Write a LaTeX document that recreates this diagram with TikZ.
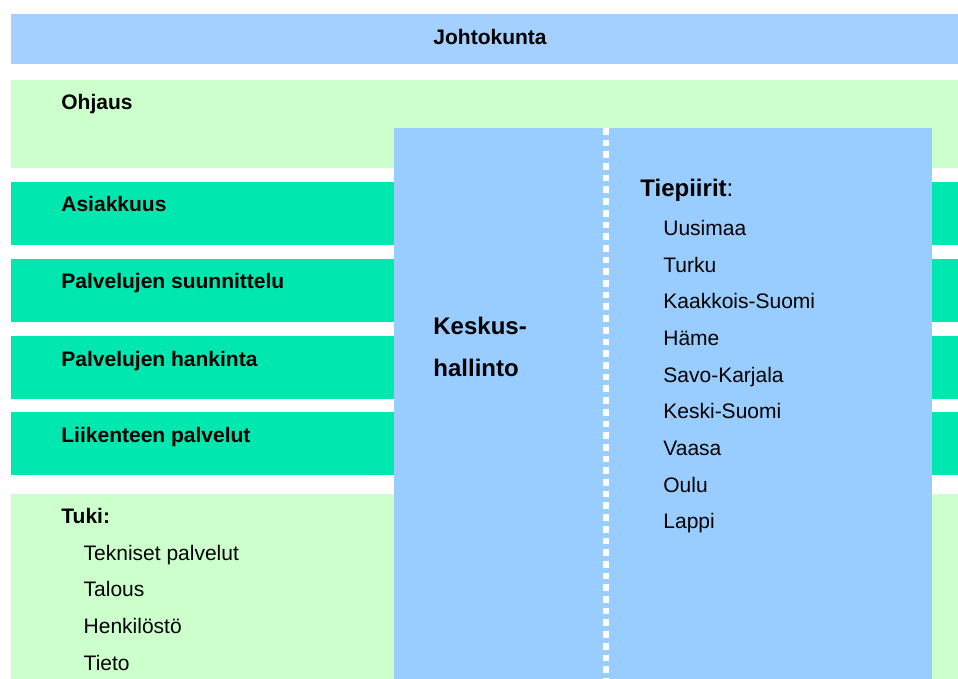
\documentclass[tikz,border=0pt]{standalone}
\usepackage{fontspec}
\setmainfont{Liberation Sans}
\usepackage{tikz}
\definecolor{johtosin}{HTML}{A3D0FF}
\definecolor{keskussin}{HTML}{99CCFF}
\definecolor{vaaleavihr}{HTML}{CCFFCC}
\definecolor{turkoosi}{HTML}{00E8B0}

\begin{document}
\begin{tikzpicture}[x=0.5pt, y=-0.5pt,
  otsikko/.style={anchor=base west, inner sep=0pt, font=\fontsize{10.5}{12}\selectfont\bfseries},
  rivi/.style={anchor=base west, inner sep=0pt, font=\fontsize{10.5}{12}\selectfont},
  iso/.style={anchor=base west, inner sep=0pt, font=\fontsize{12}{14}\selectfont\bfseries}]
\useasboundingbox (0,0) rectangle (958,679);

%Johtokunta
\fill[johtosin] (11,14) rectangle (958,64);
\node[otsikko, anchor=base] (johtokunta) at (490,44.3) {Johtokunta};

%Kaistat
\fill[vaaleavihr] (11,80) rectangle (958,168);
\node[otsikko] (ohjaus) at (61,110) {Ohjaus};
\fill[turkoosi] (11,182) rectangle (958,245);
\node[otsikko] (asiakkuus) at (61,212) {Asiakkuus};
\fill[turkoosi] (11,259) rectangle (958,322);
\node[otsikko] (suunnittelu) at (61,289) {Palvelujen suunnittelu};
\fill[turkoosi] (11,336) rectangle (958,399);
\node[otsikko] (hankinta) at (61,366) {Palvelujen hankinta};
\fill[turkoosi] (11,412) rectangle (958,475);
\node[otsikko] (liikenne) at (61,442) {Liikenteen palvelut};

%Tuki
\fill[vaaleavihr] (11,494) rectangle (958,679);
\node[otsikko] (tuki) at (61,523.3) {Tuki:};
\node[rivi] (tekniset) at (83.3,560) {Tekniset palvelut};
\node[rivi] (talous) at (83.3,596.7) {Talous};
\node[rivi] (henkilosto) at (83.3,633.3) {Henkilöstö};
\node[rivi] (tieto) at (83.3,670) {Tieto};

%Keskushallinto ja tiepiirit
\fill[keskussin] (394,128) rectangle (932,679);
\coordinate (jakoyla) at (606,128);
\coordinate (jakoala) at (606,679);
\draw[white, line width=3.35pt, dash pattern=on 3.35pt off 2.5pt] (jakoyla) -- (jakoala);
\node[iso] (keskus1) at (433,335) {Keskus-};
\node[iso] (keskus2) at (433,376) {hallinto};

\node[iso] (tiepiirit) at (640,196.7) {Tiepiirit\mdseries:};
\node[rivi] (uusimaa) at (663,235.3) {Uusimaa};
\node[rivi] (turku) at (663,272) {Turku};
\node[rivi] (kaakkois) at (663,308.7) {Kaakkois-Suomi};
\node[rivi] (hame) at (663,345.4) {Häme};
\node[rivi] (savo) at (663,382.1) {Savo-Karjala};
\node[rivi] (keski) at (663,418.8) {Keski-Suomi};
\node[rivi] (vaasa) at (663,455.5) {Vaasa};
\node[rivi] (oulu) at (663,492.2) {Oulu};
\node[rivi] (lappi) at (663,528.9) {Lappi};

\end{tikzpicture}
\end{document}
